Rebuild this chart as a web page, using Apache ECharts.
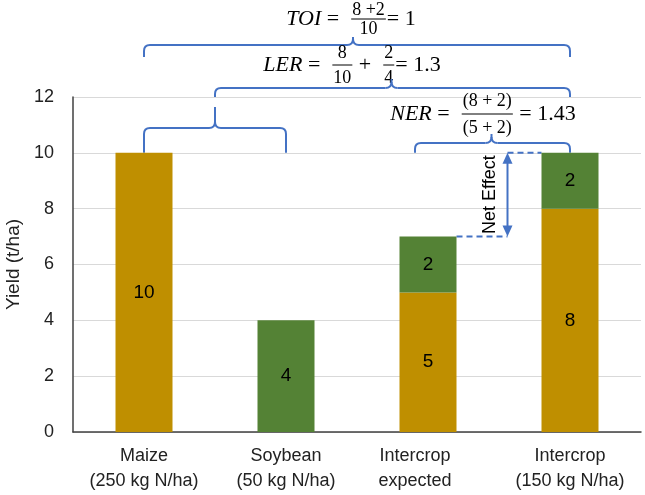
<!DOCTYPE html>
<html>
<head>
<meta charset="utf-8">
<script src="https://cdn.jsdelivr.net/npm/echarts@6/dist/echarts.min.js"></script>
<style>
html, body { margin: 0; padding: 0; background: #fff; }
#main { width: 645px; height: 495px; }
</style>
</head>
<body>
<div id="main"></div>
<script>
// 数据
var categories = ['Maize\n(250 kg N/ha)', 'Soybean\n(50 kg N/ha)', 'Intercrop\nexpected', 'Intercrop\n(150 kg N/ha)'];
var maizeYield = [10, '-', 5, 8];
var soybeanYield = ['-', 4, 2, 2];
var yMin = 0, yMax = 12, yStep = 2;

var sansFont = '"Liberation Sans", Arial, sans-serif';
var eqFont = '"Liberation Serif", serif';
var blue = '#4472C4';
var barW = 57;

var myChart = echarts.init(document.getElementById('main'));

var option = {
    animation: false,
    backgroundColor: '#fff',
    grid: { left: 73, right: 4, top: 97, bottom: 63, outerBoundsMode: 'none', containLabel: false },
    xAxis: {
        type: 'category',
        data: categories,
        axisTick: { show: false },
        axisLine: { lineStyle: { color: '#404040', width: 1.5 } },
        axisLabel: {
            interval: 0,
            margin: 12,
            color: '#222',
            fontSize: 18,
            fontFamily: sansFont,
            lineHeight: 25,
            formatter: function (v) {
                // 第三个标签在原图中偏左
                if (v.indexOf('expected') >= 0) {
                    return v.split('\n').map(function (s) { return '{e|' + s + '}'; }).join('\n');
                }
                return v;
            },
            rich: {
                e: { fontSize: 18, fontFamily: sansFont, color: '#222', lineHeight: 25, padding: [0, 26, 0, 0] }
            }
        }
    },
    yAxis: {
        type: 'value',
        min: yMin,
        max: yMax,
        interval: yStep,
        name: 'Yield (t/ha)',
        nameLocation: 'middle',
        nameGap: 49,
        nameTextStyle: { fontSize: 19, fontFamily: sansFont, color: '#222' },
        axisLine: { show: true, lineStyle: { color: '#404040', width: 1.5 } },
        axisTick: { show: false },
        axisLabel: { margin: 19, fontSize: 18, fontFamily: sansFont, color: '#222' },
        splitLine: { lineStyle: { color: '#d9d9d9' } }
    },
    series: [
        {
            name: 'Maize',
            type: 'bar',
            stack: 'y',
            barWidth: barW,
            data: maizeYield,
            itemStyle: { color: '#BF8F00' },
            label: { show: true, position: 'inside', color: '#000', fontSize: 19, fontFamily: sansFont }
        },
        {
            name: 'Soybean',
            type: 'bar',
            stack: 'y',
            barWidth: barW,
            data: soybeanYield,
            itemStyle: { color: '#548235' },
            label: { show: true, position: 'inside', color: '#000', fontSize: 19, fontFamily: sansFont }
        }
    ]
};
myChart.setOption(option);

// 测量文字宽度
var ctx = document.createElement('canvas').getContext('2d');
function textWidth(s, font) {
    ctx.font = font;
    return ctx.measureText(s).width;
}

// 公式: parts = [{t, it}] 或 [{n, d}], gap 为分子分母离分数线的距离
function equation(parts, cx, cy, gap) {
    var els = [];
    var mainSize = 22, fracSize = 18;
    var widths = parts.map(function (p) {
        if (p.d) {
            return Math.max(textWidth(p.n, fracSize + 'px ' + eqFont), textWidth(p.d, fracSize + 'px ' + eqFont)) + 4;
        }
        return textWidth(p.t, (p.it ? 'italic ' : '') + mainSize + 'px ' + eqFont);
    });
    var total = widths.reduce(function (a, b) { return a + b; }, 0);
    var x = cx - total / 2;
    parts.forEach(function (p, i) {
        var w = widths[i];
        if (p.d) {
            els.push({ type: 'text', x: x + w / 2, y: cy - gap, style: { text: p.n, font: fracSize + 'px ' + eqFont, fill: '#000', align: 'center', verticalAlign: 'middle' } });
            els.push({ type: 'line', shape: { x1: x + 1, y1: cy, x2: x + w - 1, y2: cy }, style: { stroke: '#000', lineWidth: 1 } });
            els.push({ type: 'text', x: x + w / 2, y: cy + gap + 1, style: { text: p.d, font: fracSize + 'px ' + eqFont, fill: '#000', align: 'center', verticalAlign: 'middle' } });
        } else {
            els.push({ type: 'text', x: x, y: cy, style: { text: p.t, font: (p.it ? 'italic ' : '') + mainSize + 'px ' + eqFont, fill: '#000', align: 'left', verticalAlign: 'middle' } });
        }
        x += w;
    });
    return els;
}

// 花括号 (直线 + 二次曲线)
function brace(x1, x2, xm, yTop, yEnd, yTip) {
    var r = 6;
    var st = { stroke: blue, lineWidth: 2, fill: null };
    function ln(a, b, c, d) { return { type: 'line', shape: { x1: a, y1: b, x2: c, y2: d }, style: st }; }
    function cv(a, b, cx, cy, c, d) { return { type: 'bezierCurve', shape: { x1: a, y1: b, cpx1: cx, cpy1: cy, x2: c, y2: d }, style: st }; }
    return [
        ln(x1, yEnd, x1, yTop + r),
        cv(x1, yTop + r, x1, yTop, x1 + r, yTop),
        ln(x1 + r, yTop, xm - r, yTop),
        cv(xm - r, yTop, xm, yTop, xm, yTop - r),
        ln(xm, yTop - r, xm, yTip),
        cv(xm, yTop - r, xm, yTop, xm + r, yTop),
        ln(xm + r, yTop, x2 - r, yTop),
        cv(x2 - r, yTop, x2, yTop, x2, yTop + r),
        ln(x2, yTop + r, x2, yEnd)
    ];
}

function px(cat, val) {
    return myChart.convertToPixel({ gridIndex: 0 }, [categories[cat], val]);
}

var c0 = px(0, 0)[0], c1 = px(1, 0)[0], c2 = px(2, 0)[0], c3 = px(3, 0)[0];
var y10 = px(0, 10)[1], y7 = px(2, 7)[1], y12 = px(0, 12)[1];
var midLeft = (c0 + c1) / 2;

var graphics = [];
graphics = graphics.concat(equation([{ t: 'TOI', it: true }, { t: ' =  ' }, { n: '8 +2', d: '10' }, { t: '= 1' }], 351, 19, 9));
graphics = graphics.concat(brace(c0, c3, (c0 + c3) / 2 - 4, 45, 57, 37));
graphics = graphics.concat(equation([{ t: 'LER', it: true }, { t: ' =  ' }, { n: '8', d: '10' }, { t: ' +  ' }, { n: '2', d: '4' }, { t: '= 1.3' }], 352, 65, 12));
graphics = graphics.concat(brace(midLeft, c3, (midLeft + c3) / 2 - 1, 88, y12, 79));
graphics = graphics.concat(brace(c0, c1, midLeft, 128, y10, 107));
graphics = graphics.concat(equation([{ t: 'NER', it: true }, { t: ' =  ' }, { n: '(8 + 2)', d: '(5 + 2)' }, { t: ' = 1.43' }], 483, 114, 13));
var nerL = c2 - 13;
graphics = graphics.concat(brace(nerL, c3, (nerL + c3) / 2 - 1, 143, y10, 134));

// Net Effect 箭头
var ax = c2 + barW / 2 + 51;
graphics.push({ type: 'line', shape: { x1: c2 + barW / 2, y1: y7, x2: ax, y2: y7 }, style: { stroke: blue, lineWidth: 2, lineDash: [6, 4] } });
graphics.push({ type: 'line', shape: { x1: ax, y1: y10, x2: c3 - barW / 2, y2: y10 }, style: { stroke: blue, lineWidth: 2, lineDash: [6, 4] } });
graphics.push({ type: 'line', shape: { x1: ax, y1: y10 + 8, x2: ax, y2: y7 - 8 }, style: { stroke: blue, lineWidth: 2 } });
graphics.push({ type: 'polygon', shape: { points: [[ax, y10], [ax - 5, y10 + 11], [ax + 5, y10 + 11]] }, style: { fill: blue } });
graphics.push({ type: 'polygon', shape: { points: [[ax, y7], [ax - 5, y7 - 11], [ax + 5, y7 - 11]] }, style: { fill: blue } });
graphics.push({ type: 'text', x: ax - 17, y: (y10 + y7) / 2, rotation: Math.PI / 2, style: { text: 'Net Effect', font: '18px ' + sansFont, fill: '#000', align: 'center', verticalAlign: 'middle' } });

myChart.setOption({ graphic: { elements: graphics } });
</script>
</body>
</html>
